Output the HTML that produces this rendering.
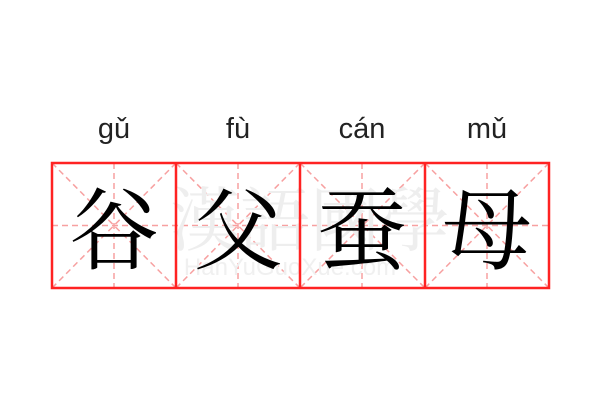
<!DOCTYPE html>
<html><head><meta charset="utf-8"><style>
body{margin:0;width:600px;height:400px;background:#fff;overflow:hidden}
</style></head><body>
<svg width="600" height="400" xmlns="http://www.w3.org/2000/svg">
<g font-family="Liberation Sans, DejaVu Sans, sans-serif" font-size="29" fill="#222" text-anchor="middle">
<text x="114" y="138">gǔ</text>
<text x="238" y="138">fù</text>
<text x="362" y="138">cán</text>
<text x="487" y="138">mǔ</text>
</g>
<g stroke="#f7a0a0" stroke-width="1.5" stroke-dasharray="6,4" fill="none">
<line x1="52" y1="225.5" x2="549" y2="225.5"/>
<line x1="114" y1="163" x2="114" y2="288"/>
<line x1="238" y1="163" x2="238" y2="288"/>
<line x1="362" y1="163" x2="362" y2="288"/>
<line x1="487" y1="163" x2="487" y2="288"/>
<line x1="52" y1="163" x2="176" y2="288"/><line x1="176" y1="163" x2="52" y2="288"/>
<line x1="176" y1="163" x2="300" y2="288"/><line x1="300" y1="163" x2="176" y2="288"/>
<line x1="300" y1="163" x2="425" y2="288"/><line x1="425" y1="163" x2="300" y2="288"/>
<line x1="425" y1="163" x2="549" y2="288"/><line x1="549" y1="163" x2="425" y2="288"/>
</g>
<g font-family="Noto Serif CJK SC, serif" font-size="70" fill="#eeeeee">
<text x="170" y="245">漢語國學</text>
</g>
<text x="290" y="275" font-family="Liberation Sans, sans-serif" font-size="24" fill="#f0f0f0" text-anchor="middle">HanYuGuoXue.com</text>
<g font-family="Noto Serif CJK SC, serif" font-size="90" fill="#000" text-anchor="middle">
<text x="114" y="262">谷</text>
<text x="238" y="262">父</text>
<text x="362" y="262">蚕</text>
<text x="487" y="262">母</text>
</g>
<g stroke="#f22" stroke-width="2.5" fill="none">
<rect x="52" y="163" width="497" height="125"/>
<line x1="176" y1="163" x2="176" y2="288"/>
<line x1="300" y1="163" x2="300" y2="288"/>
<line x1="425" y1="163" x2="425" y2="288"/>
</g>
</svg>
</body></html>
